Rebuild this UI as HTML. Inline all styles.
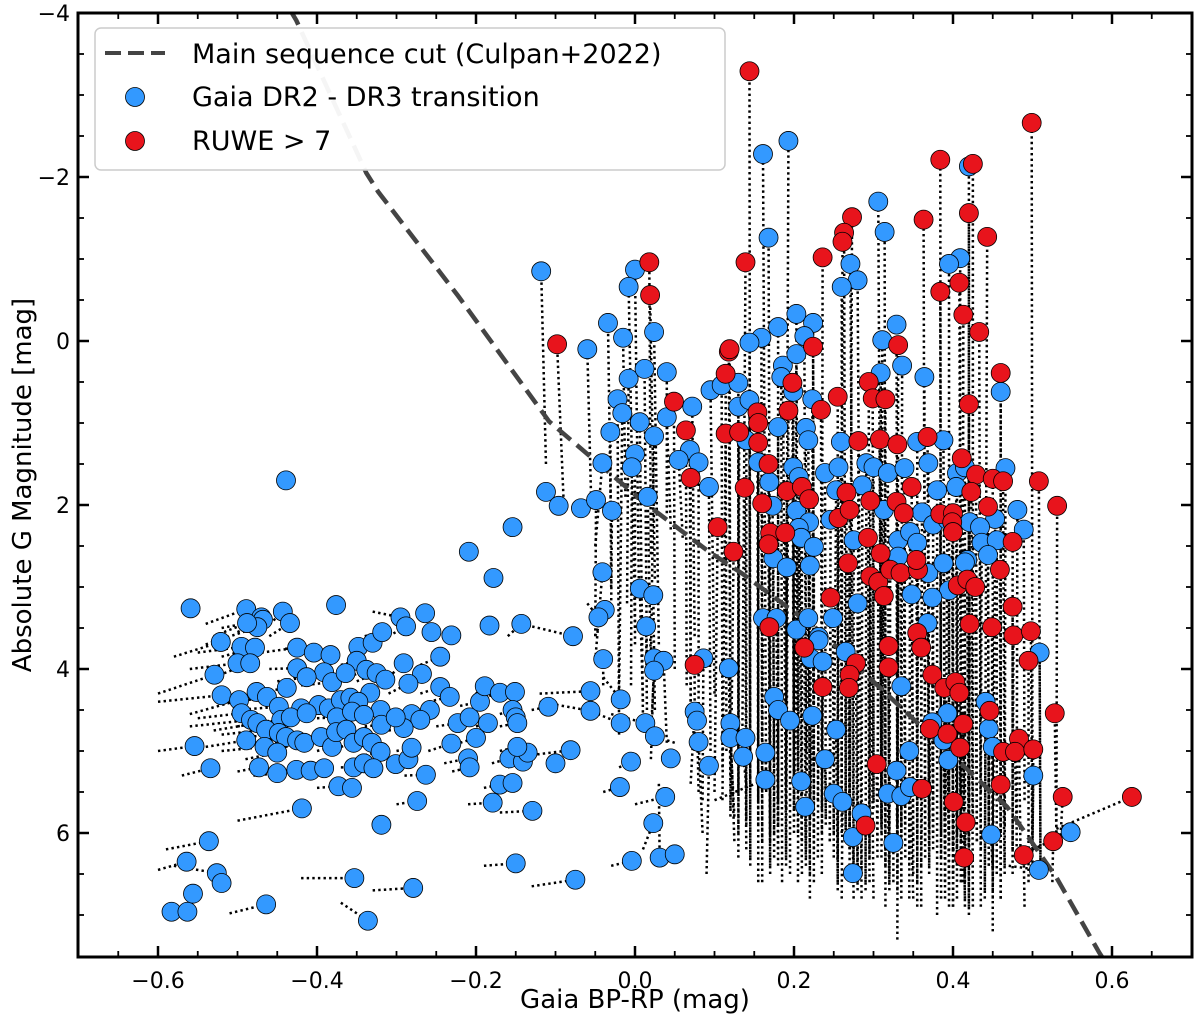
<!DOCTYPE html>
<html>
<head>
<meta charset="utf-8">
<style>
  html,body{margin:0;padding:0;background:#fff;}
  svg{display:block;font-family:"DejaVu Sans","Liberation Sans",sans-serif;}
</style>
</head>
<body>
<svg id="chart" width="1200" height="1024" viewBox="0 0 1200 1024" xmlns="http://www.w3.org/2000/svg">
  <defs><clipPath id="plotclip"><rect x="78" y="13" width="1114" height="944"/></clipPath></defs>
  <g id="lines" clip-path="url(#plotclip)"></g>
  <g id="curve" clip-path="url(#plotclip)"></g>
  <g id="blue" clip-path="url(#plotclip)"></g>
  <g id="red" clip-path="url(#plotclip)"></g>
  <g id="axes"></g>
  <g>
    <rect x="95" y="28" width="630" height="142" rx="6" fill="#fff" fill-opacity="0.95" stroke="#ccc" stroke-width="1.5"/>
    <line x1="105" y1="53" x2="165" y2="53" stroke="#444" stroke-width="4" stroke-dasharray="16,7"/>
    <text x="192" y="63" font-size="27" fill="#000">Main sequence cut (Culpan+2022)</text>
    <circle cx="135" cy="97" r="9.5" fill="#3399ff" stroke="#000" stroke-width="0.8"/>
    <text x="192" y="106" font-size="27" fill="#000">Gaia DR2 - DR3 transition</text>
    <circle cx="135" cy="141" r="9.5" fill="#e8141c" stroke="#000" stroke-width="0.8"/>
    <text x="192" y="150" font-size="27" fill="#000">RUWE &gt; 7</text>
  </g>
  <text x="635" y="1008" font-size="26" text-anchor="middle">Gaia BP-RP (mag)</text>
  <text transform="translate(31,485) rotate(-90)" font-size="26" text-anchor="middle">Absolute G Magnitude [mag]</text>
</svg>
<script>
const NS="http://www.w3.org/2000/svg";
const xTicks=[-0.6,-0.4,-0.2,0.0,0.2,0.4,0.6];
const xTickLabels=["\u22120.6","\u22120.4","\u22120.2","0.0","0.2","0.4","0.6"];
const yTicks=[-4,-2,0,2,4,6];
const yTickLabels=["\u22124","\u22122","0","2","4","6"];
const cutX=[-0.45,-0.426,-0.338,-0.323,-0.2225,-0.108,0.013,0.093,0.134,0.230,0.468,0.530,0.584,0.62];
const cutY=[-4.3,-3.91,-2.05,-1.82,-0.55,0.98,1.98,2.57,2.83,3.52,5.68,6.54,7.46,8.0];
const blue=[
[-0.559,3.26,-0.559,3.26],[-0.489,3.27,-0.54,3.45],[-0.470,3.37,-0.53,3.6],[-0.468,3.40,-0.50,3.55],[-0.475,3.49,-0.54,3.7],[-0.488,3.44,-0.52,3.5],[-0.443,3.30,-0.47,3.55],[-0.434,3.44,-0.46,3.6],[-0.376,3.22,-0.376,3.22],[-0.521,3.67,-0.58,3.85],[-0.495,3.73,-0.55,3.8],[-0.478,3.74,-0.52,3.85],[-0.500,3.93,-0.56,4.0],[-0.484,3.93,-0.53,4.1],[-0.529,4.07,-0.60,4.3],[-0.520,4.32,-0.60,4.4],[-0.498,4.38,-0.56,4.55],[-0.495,4.54,-0.55,4.6],[-0.483,4.62,-0.56,4.7],[-0.476,4.28,-0.53,4.35],[-0.463,4.34,-0.50,4.4],[-0.438,4.23,-0.48,4.3],[-0.425,3.74,-0.47,3.8],[-0.404,3.80,-0.44,3.75],[-0.383,3.83,-0.42,3.8],[-0.425,3.99,-0.46,4.0],[-0.391,4.04,-0.43,4.1],[-0.413,4.10,-0.45,4.15],[-0.381,4.16,-0.42,4.2],[-0.348,3.73,-0.36,3.9],[-0.330,3.68,-0.35,3.7],[-0.318,3.55,-0.34,3.6],[-0.295,3.37,-0.33,3.3],[-0.288,3.48,-0.31,3.6],[-0.264,3.32,-0.264,3.32],[-0.256,3.55,-0.256,3.55],[-0.231,3.59,-0.231,3.59],[-0.245,3.85,-0.27,3.95],[-0.291,3.93,-0.31,4.1],[-0.268,4.06,-0.29,4.2],[-0.285,4.18,-0.31,4.3],[-0.350,3.90,-0.37,3.95],[-0.364,4.05,-0.39,4.1],[-0.338,4.01,-0.36,4.1],[-0.325,4.05,-0.35,4.15],[-0.314,4.13,-0.33,4.2],[-0.333,4.29,-0.36,4.35],[-0.245,4.22,-0.27,4.3],[-0.233,4.34,-0.26,4.4],[-0.258,4.50,-0.29,4.6],[-0.281,4.55,-0.30,4.6],[-0.270,4.62,-0.29,4.7],[-0.320,4.50,-0.34,4.55],[-0.319,4.68,-0.34,4.7],[-0.291,4.72,-0.31,4.75],[-0.301,4.59,-0.32,4.65],[-0.448,4.46,-0.50,4.5],[-0.420,4.48,-0.45,4.5],[-0.398,4.44,-0.43,4.5],[-0.385,4.48,-0.41,4.55],[-0.370,4.38,-0.40,4.4],[-0.358,4.35,-0.38,4.4],[-0.348,4.40,-0.37,4.45],[-0.445,4.62,-0.50,4.7],[-0.433,4.59,-0.47,4.65],[-0.413,4.54,-0.44,4.6],[-0.375,4.59,-0.40,4.6],[-0.356,4.52,-0.38,4.55],[-0.341,4.56,-0.36,4.6],[-0.475,4.66,-0.53,4.75],[-0.464,4.74,-0.52,4.8],[-0.448,4.78,-0.50,4.85],[-0.439,4.83,-0.48,4.9],[-0.425,4.87,-0.46,4.9],[-0.416,4.90,-0.44,4.95],[-0.395,4.83,-0.42,4.85],[-0.381,4.95,-0.40,5.0],[-0.376,4.77,-0.40,4.8],[-0.363,4.74,-0.38,4.8],[-0.354,4.90,-0.37,4.95],[-0.341,4.83,-0.36,4.9],[-0.331,4.90,-0.35,4.95],[-0.320,5.01,-0.34,5.05],[-0.489,4.87,-0.54,4.95],[-0.466,4.95,-0.52,5.0],[-0.450,5.02,-0.49,5.1],[-0.554,4.94,-0.60,5.0],[-0.534,5.21,-0.57,5.3],[-0.473,5.20,-0.50,5.25],[-0.450,5.27,-0.48,5.3],[-0.426,5.23,-0.45,5.25],[-0.408,5.24,-0.43,5.25],[-0.391,5.21,-0.41,5.2],[-0.354,5.20,-0.37,5.2],[-0.341,5.15,-0.36,5.2],[-0.329,5.21,-0.35,5.25],[-0.301,5.16,-0.32,5.2],[-0.285,5.10,-0.30,5.15],[-0.281,4.96,-0.30,5.0],[-0.263,5.29,-0.29,5.3],[-0.373,5.43,-0.40,5.45],[-0.356,5.45,-0.37,5.45],[-0.231,4.91,-0.26,5.0],[-0.223,4.66,-0.25,4.7],[-0.208,4.59,-0.23,4.65],[-0.195,4.40,-0.22,4.45],[-0.189,4.21,-0.20,4.3],[-0.170,4.29,-0.19,4.35],[-0.151,4.28,-0.151,4.28],[-0.154,4.50,-0.17,4.55],[-0.150,4.59,-0.15,4.59],[-0.148,4.66,-0.17,4.7],[-0.185,4.66,-0.20,4.7],[-0.200,4.84,-0.22,4.9],[-0.210,5.09,-0.24,5.15],[-0.208,5.20,-0.23,5.25],[-0.170,5.41,-0.19,5.45],[-0.154,5.39,-0.17,5.45],[-0.158,5.09,-0.18,5.15],[-0.141,5.13,-0.16,5.2],[-0.135,5.02,-0.15,5.05],[-0.148,4.95,-0.17,5.0],[-0.100,5.15,-0.100,5.15],[-0.109,4.46,-0.13,4.5],[-0.179,5.63,-0.21,5.65],
[-0.583,6.96,-0.583,6.96],[-0.563,6.96,-0.563,6.96],[-0.556,6.74,-0.556,6.74],[-0.564,6.35,-0.60,6.45],[-0.536,6.10,-0.59,6.2],[-0.526,6.49,-0.58,6.4],[-0.520,6.61,-0.52,6.61],[-0.464,6.87,-0.51,6.98],[-0.419,5.70,-0.50,5.85],[-0.353,6.55,-0.42,6.55],[-0.336,7.07,-0.37,6.85],[-0.279,6.67,-0.33,6.7],[-0.319,5.90,-0.319,5.90],[-0.274,5.61,-0.30,5.65],[-0.150,6.37,-0.19,6.4],[-0.129,5.73,-0.17,5.75],
[-0.439,1.70,-0.439,1.70],[-0.209,2.57,-0.209,2.57],[-0.178,2.89,-0.178,2.89],[-0.143,3.45,-0.16,3.6],[-0.183,3.47,-0.183,3.47],[-0.154,2.27,-0.154,2.27],
[-0.118,-0.85,-0.112,1.5],[-0.060,0.10,-0.055,2.0],[-0.034,-0.22,-0.03,2.4],[-0.015,-0.04,-0.012,1.9],[0.000,-0.87,0.005,3.1],[-0.008,-0.66,0.0,3.5],[0.024,-0.11,0.03,3.7],[-0.008,0.46,-0.01,3.2],[0.012,0.34,0.015,4.0],[0.040,0.38,0.04,2.1],[-0.022,0.71,-0.02,4.8],[-0.016,0.88,-0.02,4.3],[-0.031,1.11,-0.03,3.0],[0.006,0.99,0.01,4.6],[0.024,1.16,0.02,3.9],[0.040,0.93,0.045,2.3],[0.072,0.80,0.075,3.6],[0.069,1.33,0.07,4.4],[0.055,1.45,0.06,2.4],[0.080,1.48,0.08,4.5],[0.093,1.78,0.095,5.0],[0.000,1.38,0.0,3.7],[-0.004,1.54,-0.005,4.2],[-0.041,1.49,-0.05,2.5],[-0.112,1.84,-0.112,1.84],[-0.096,2.01,-0.096,2.01],[-0.068,2.04,-0.07,2.0],[-0.049,1.94,-0.05,3.6],[-0.029,2.07,-0.03,3.3],[0.016,1.90,0.02,4.0],[0.095,0.60,0.1,4.3],[-0.041,2.82,-0.05,3.9],[0.006,3.02,0.01,4.4],[0.023,3.10,0.025,4.5],[-0.038,3.28,-0.05,3.6],[-0.046,3.37,-0.06,3.2],[0.014,3.48,0.015,4.5],[-0.078,3.60,-0.143,3.45],[-0.040,3.88,-0.04,4.2],[0.024,3.87,0.02,5.1],[0.036,3.90,0.04,4.9],[0.024,4.02,0.02,4.8],[0.086,3.87,0.085,5.6],[0.118,3.99,0.12,5.3],[-0.056,4.27,-0.12,4.3],[-0.018,4.37,-0.04,4.1],[-0.056,4.51,-0.12,4.4],[-0.018,4.66,-0.06,4.5],[0.013,4.66,-0.03,4.55],[0.025,4.82,0.05,4.9],[0.075,4.52,0.07,5.4],[0.078,4.63,0.08,5.5],[0.080,4.89,0.085,6.0],[0.120,4.66,0.125,6.1],[0.120,4.84,0.125,5.8],[0.093,5.18,0.09,6.5],[0.045,5.09,0.05,5.0],[-0.005,5.13,-0.02,5.2],[-0.081,4.99,-0.13,5.05],[-0.019,5.44,-0.04,5.5],[0.038,5.56,0.0,5.65],[0.023,5.88,0.01,6.2],[-0.004,6.34,-0.03,6.4],[0.031,6.30,0.03,5.4],[0.050,6.26,0.03,6.3],[-0.075,6.57,-0.13,6.65],
[0.161,-2.28,0.165,5.5],[0.193,-2.44,0.19,4.8],[0.168,-1.26,0.17,4.5],[0.271,-0.94,0.275,6.5],[0.280,-0.74,0.285,6.8],[0.260,-0.66,0.26,6.0],[0.306,-1.70,0.31,5.8],[0.314,-1.33,0.315,6.4],[0.420,-2.13,0.42,5.6],[0.409,-1.01,0.41,6.2],[0.395,-0.94,0.395,5.7],[0.203,-0.33,0.205,5.2],[0.224,-0.22,0.225,5.6],[0.180,-0.17,0.18,5.9],[0.213,-0.06,0.215,5.0],[0.159,-0.04,0.16,6.1],[0.144,0.02,0.145,5.4],[0.329,-0.20,0.33,6.2],[0.311,-0.01,0.31,6.0],
[0.109,0.54,0.11,5.2],[0.130,0.51,0.13,6.0],[0.186,0.30,0.19,6.3],[0.203,0.16,0.2,4.9],[0.199,0.62,0.2,5.7],[0.184,0.44,0.185,6.6],[0.130,0.80,0.13,5.5],[0.144,0.72,0.145,6.4],[0.140,1.21,0.14,5.9],[0.180,1.05,0.18,6.2],[0.223,0.71,0.225,6.0],[0.215,1.06,0.215,5.3],[0.218,1.21,0.22,6.5],[0.336,0.30,0.335,6.6],[0.309,0.39,0.31,5.5],[0.364,0.44,0.365,6.3],[0.460,0.62,0.46,6.0],[0.259,1.23,0.26,5.8],[0.355,1.23,0.355,6.9],[0.388,1.21,0.39,5.6],[0.466,1.55,0.465,6.4],[0.155,1.48,0.155,5.6],[0.169,1.72,0.17,6.4],[0.199,1.54,0.2,5.4],[0.206,1.66,0.21,6.1],[0.239,1.61,0.24,5.9],[0.173,2.01,0.175,5.1],[0.256,1.54,0.255,6.3],[0.291,1.49,0.29,6.7],[0.300,1.54,0.3,5.7],[0.318,1.61,0.32,6.5],[0.339,1.55,0.34,5.9],[0.369,1.49,0.37,6.2],[0.405,1.61,0.405,6.8],[0.415,1.54,0.415,5.5],[0.253,1.82,0.25,5.6],[0.286,1.76,0.285,6.1],[0.380,1.82,0.38,7.0],[0.404,1.78,0.405,6.0],[0.203,2.07,0.205,6.0],[0.219,2.21,0.22,5.5],[0.206,2.28,0.205,6.6],[0.313,2.06,0.31,6.3],[0.361,2.09,0.36,5.6],[0.481,2.06,0.48,6.3],[0.453,2.17,0.45,6.7],[0.421,2.21,0.42,5.7],[0.434,2.27,0.435,6.2],[0.489,2.30,0.49,5.6],[0.246,2.18,0.245,6.1],[0.275,2.43,0.275,6.4],[0.331,2.43,0.33,5.9],[0.346,2.33,0.345,6.8],[0.355,2.46,0.355,6.2],[0.331,2.63,0.33,7.3],[0.375,2.24,0.375,6.0],[0.393,2.18,0.39,6.6],[0.436,2.46,0.435,5.5],[0.455,2.43,0.455,6.5],[0.444,2.61,0.445,6.0],[0.418,2.67,0.42,6.9],[0.209,2.40,0.21,5.8],[0.225,2.51,0.225,6.2],[0.174,2.65,0.175,6.3],[0.191,2.76,0.19,5.4],[0.220,2.74,0.22,5.9],[0.369,2.83,0.37,6.4],[0.388,2.71,0.39,5.8],[0.415,2.70,0.415,6.6],[0.395,3.04,0.395,6.9],[0.348,3.09,0.35,6.1],[0.374,3.13,0.375,5.6],[0.280,3.20,0.28,6.6],[0.161,3.38,0.16,5.3],[0.178,3.38,0.18,6.4],[0.203,3.52,0.2,5.8],[0.218,3.38,0.215,6.2],[0.249,3.38,0.25,6.0],[0.231,3.61,0.23,5.6],[0.368,3.44,0.37,5.9],
[0.231,3.65,0.23,6.3],[0.221,3.87,0.22,5.9],[0.236,3.91,0.235,6.5],[0.265,3.79,0.265,6.1],[0.335,4.21,0.335,6.8],[0.509,3.80,0.51,6.4],[0.441,4.40,0.44,6.8],[0.445,4.73,0.445,5.9],[0.393,4.54,0.395,6.7],[0.374,4.65,0.375,6.0],[0.388,4.87,0.39,6.2],[0.394,5.11,0.395,5.5],[0.450,4.95,0.45,6.4],[0.501,5.30,0.5,6.1],[0.175,4.34,0.175,6.0],[0.180,4.50,0.18,5.6],[0.195,4.63,0.195,6.5],[0.223,4.57,0.22,5.8],[0.139,4.84,0.14,6.2],[0.136,5.07,0.14,5.4],[0.164,5.02,0.165,5.3],[0.253,4.74,0.255,6.6],[0.239,5.10,0.24,5.8],[0.164,5.35,0.1,5.6],[0.209,5.37,0.21,6.5],[0.214,5.68,0.215,6.4],[0.250,5.52,0.25,6.3],[0.261,5.62,0.26,6.8],[0.285,5.76,0.285,6.5],[0.274,6.05,0.275,6.8],[0.274,6.49,0.28,6.6],[0.329,5.24,0.33,6.2],[0.345,5.00,0.345,6.4],[0.318,5.52,0.32,6.7],[0.335,5.55,0.335,6.0],[0.346,5.44,0.35,6.8],[0.325,6.12,0.325,6.6],[0.448,6.02,0.45,6.5],[0.548,5.99,0.5,6.2],[0.508,6.45,0.47,6.4]
];
const red=[
[-0.098,0.04,-0.09,1.9],[0.018,-0.96,0.02,2.6],[0.019,-0.56,0.025,2.9],[0.049,0.74,0.05,4.0],[0.064,1.09,0.065,4.2],[0.070,1.67,0.07,4.6],[0.104,2.27,0.1,5.5],[0.124,2.57,0.12,5.8],[0.118,0.13,0.12,4.8],[0.114,0.40,0.115,5.0],[0.114,1.13,0.11,5.6],[0.075,3.95,0.075,5.0],
[0.144,-3.29,0.145,6.3],[0.499,-2.66,0.5,6.0],[0.139,-0.96,0.135,4.9],[0.236,-1.02,0.235,5.3],[0.273,-1.51,0.27,6.2],[0.263,-1.32,0.265,5.9],[0.261,-1.21,0.26,5.4],[0.363,-1.48,0.365,6.1],[0.384,-2.21,0.385,6.8],[0.425,-2.16,0.425,5.9],[0.420,-1.56,0.42,7.0],[0.443,-1.27,0.44,6.7],[0.384,-0.60,0.385,6.3],[0.408,-0.71,0.41,5.8],[0.413,-0.32,0.412,6.6],[0.433,-0.11,0.435,6.9],[0.119,0.10,0.12,5.7],[0.224,0.07,0.225,6.6],[0.331,0.05,0.33,6.7],
[0.198,0.51,0.2,6.0],[0.154,0.87,0.155,5.9],[0.155,1.00,0.155,6.6],[0.131,1.11,0.13,6.3],[0.155,1.24,0.155,5.4],[0.193,0.85,0.19,6.4],[0.234,0.84,0.235,5.7],[0.255,0.68,0.255,6.6],[0.294,0.50,0.295,6.2],[0.299,0.70,0.3,5.6],[0.315,0.71,0.315,6.9],[0.460,0.39,0.46,6.8],[0.420,0.77,0.42,6.3],[0.281,1.22,0.28,6.4],[0.308,1.20,0.31,5.9],[0.330,1.26,0.33,6.5],[0.368,1.17,0.37,5.8],[0.411,1.43,0.41,6.6],[0.429,1.63,0.43,6.1],[0.450,1.68,0.45,7.2],[0.463,1.71,0.465,5.9],[0.508,1.71,0.51,6.3],[0.531,2.01,0.53,6.2],[0.423,1.84,0.425,6.9],[0.168,1.50,0.17,6.1],[0.138,1.79,0.14,5.8],[0.160,1.98,0.16,6.6],[0.191,1.83,0.19,6.2],[0.210,1.78,0.21,5.6],[0.219,1.93,0.22,6.8],[0.266,1.85,0.265,6.0],[0.296,1.95,0.295,6.3],[0.348,1.78,0.35,6.5],[0.329,1.96,0.33,5.8],[0.256,2.16,0.255,6.7],[0.270,2.06,0.27,5.9],[0.338,2.10,0.34,6.3],[0.384,2.11,0.385,6.0],[0.400,2.10,0.4,6.9],[0.399,2.21,0.4,6.2],[0.444,2.02,0.445,6.4],[0.293,2.40,0.295,6.6],[0.309,2.59,0.31,5.9],[0.400,2.33,0.4,6.5],[0.475,2.45,0.475,6.2],[0.459,2.79,0.46,6.8],[0.170,2.34,0.17,6.0],[0.189,2.34,0.19,5.7],[0.168,2.48,0.17,6.5],[0.268,2.71,0.27,6.2],[0.296,2.87,0.3,6.8],[0.306,2.94,0.305,6.1],[0.321,2.79,0.32,6.5],[0.334,2.83,0.335,5.9],[0.356,2.79,0.355,6.6],[0.354,2.67,0.355,6.0],[0.406,2.98,0.405,6.3],[0.418,2.91,0.42,6.7],[0.428,3.00,0.43,6.1],[0.313,3.11,0.315,6.4],[0.475,3.24,0.475,6.5],[0.246,3.13,0.245,6.1],[0.169,3.49,0.17,5.9],[0.421,3.45,0.42,6.3],[0.449,3.49,0.45,6.8],[0.476,3.59,0.475,6.2],[0.498,3.54,0.5,6.5],[0.355,3.56,0.355,6.2],[0.213,3.74,0.215,6.3],[0.278,3.93,0.28,6.7],[0.270,4.07,0.27,6.1],[0.269,4.23,0.27,6.4],[0.236,4.22,0.235,6.0],[0.319,3.72,0.32,6.3],[0.360,3.74,0.36,6.9],[0.319,3.98,0.32,6.6],[0.374,4.07,0.375,6.2],[0.389,4.23,0.39,6.8],[0.403,4.16,0.405,6.4],[0.408,4.29,0.41,6.1],[0.495,3.90,0.495,6.6],[0.446,4.51,0.445,6.4],[0.371,4.73,0.37,6.5],[0.393,4.79,0.395,6.1],[0.413,4.67,0.415,6.9],[0.409,4.96,0.41,6.6],[0.528,4.54,0.53,6.0],[0.483,4.85,0.485,6.3],[0.463,5.01,0.465,6.5],[0.478,5.01,0.48,5.9],[0.501,4.98,0.5,6.2],[0.460,5.41,0.46,6.8],[0.538,5.56,0.535,6.1],[0.290,5.91,0.29,6.6],[0.304,5.16,0.305,6.3],[0.361,5.46,0.36,6.4],[0.401,5.62,0.4,6.9],[0.416,5.87,0.415,6.5],[0.414,6.30,0.415,6.8],[0.526,6.10,0.525,6.6],[0.489,6.27,0.49,6.9],[0.625,5.56,0.53,5.95]
];
const X0=635,XS=795,Y0=341,YS=82;
function sx(v){return X0+XS*v;}
function sy(v){return Y0+YS*v;}
function mk(tag,attrs,parent){const e=document.createElementNS(NS,tag);for(const k in attrs)e.setAttribute(k,attrs[k]);parent.appendChild(e);return e;}

const gl=document.getElementById('lines');
[blue,red].forEach(function(arr){
  arr.forEach(function(p){
    if(p[0]===p[2]&&p[1]===p[3])return;
    const l=mk('line',{x1:sx(p[2]),y1:sy(p[3]),x2:sx(p[0]),y2:sy(p[1]),stroke:'#000','stroke-width':2.5,'stroke-dasharray':'2.4,3.2'},gl);
    
    
  });
});
const gc=document.getElementById('curve');
let d='';
for(let i=0;i<cutX.length;i++){d+=(i?'L':'M')+sx(cutX[i]).toFixed(1)+','+sy(cutY[i]).toFixed(1);}
const cp=mk('path',{d:d,fill:'none',stroke:'#444','stroke-width':4.5,'stroke-dasharray':'17,8'},gc);



const gb=document.getElementById('blue');
blue.forEach(function(p){
  const c=mk('circle',{cx:sx(p[0]),cy:sy(p[1]),r:9.5,fill:'#3399ff',stroke:'#000','stroke-width':0.8},gb);
  
  
});
const gr=document.getElementById('red');
red.forEach(function(p){
  const c=mk('circle',{cx:sx(p[0]),cy:sy(p[1]),r:9.5,fill:'#e8141c',stroke:'#000','stroke-width':0.8},gr);
  
  
});

const ga=document.getElementById('axes');
const L=78,R=1192,T=13,B=957;
const frame=mk('rect',{x:L,y:T,width:R-L,height:B-T,fill:'none',stroke:'#000','stroke-width':3},ga);


for(let k=-14;k<=14;k++){
  const v=k*0.05;const x=sx(v);if(x<L+2||x>R-2)continue;
  const major=(k%4===0);const len=major?11:6;
  const t1=mk('line',{x1:x,y1:B,x2:x,y2:B-len,stroke:'#000','stroke-width':major?2.5:1.8},ga);
  
  
  const t2=mk('line',{x1:x,y1:T,x2:x,y2:T+len,stroke:'#000','stroke-width':major?2.5:1.8},ga);
  
  
}
for(let k=-8;k<=15;k++){
  const v=k*0.5;const y=sy(v);if(y<T-1||y>B-2)continue;
  const major=(k%4===0);const len=major?11:6;
  const t1=mk('line',{x1:L,y1:y,x2:L+len,y2:y,stroke:'#000','stroke-width':major?2.5:1.8},ga);
  
  
  const t2=mk('line',{x1:R,y1:y,x2:R-len,y2:y,stroke:'#000','stroke-width':major?2.5:1.8},ga);
  
  
}
xTicks.forEach(function(v,i){
  const t=mk('text',{x:sx(v),y:B+31,'font-size':22,'text-anchor':'middle'},ga);
  t.textContent=xTickLabels[i];
  
  
});
yTicks.forEach(function(v,i){
  const t=mk('text',{x:L-8,y:sy(v)+8,'font-size':22,'text-anchor':'end'},ga);
  t.textContent=yTickLabels[i];
  
  
});
</script>
</body>
</html>
